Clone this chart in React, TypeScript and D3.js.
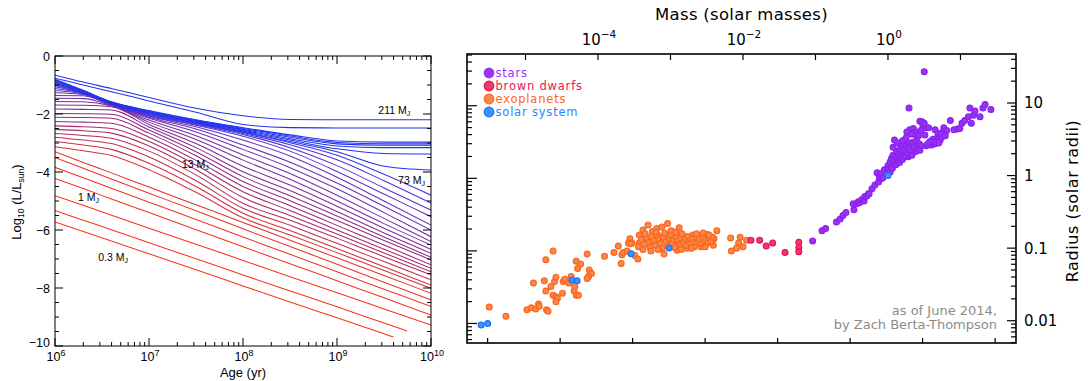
import React from "react";
import * as d3 from "d3";

// ---------- Left panel: luminosity evolution tracks ----------

// log10(age / yr) at which every track is sampled
const AGE_GRID = [6, 6.3, 6.6, 7, 7.5, 8, 8.5, 9, 9.5, 10];

// log10(L / Lsun) of each track on AGE_GRID, most massive first
const TRACKS: (number | null)[][] = [
  [-0.66, -0.90, -1.12, -1.43, -1.80, -2.06, -2.19, -2.20, -2.20, -2.20],
  [-0.77, -1.00, -1.23, -1.55, -1.94, -2.36, -2.47, -2.48, -2.48, -2.48],
  [-0.80, -1.18, -1.58, -1.88, -2.20, -2.47, -2.72, -2.93, -2.97, -2.97],
  [-0.83, -1.20, -1.59, -1.90, -2.22, -2.50, -2.76, -2.98, -3.03, -3.03],
  [-0.86, -1.22, -1.60, -1.92, -2.24, -2.53, -2.80, -3.03, -3.08, -3.08],
  [-0.89, -1.24, -1.61, -1.94, -2.26, -2.56, -2.85, -3.10, -3.16, -3.16],
  [-0.92, -1.25, -1.62, -1.96, -2.28, -2.59, -2.90, -3.20, -3.36, -3.38],
  [-0.95, -1.26, -1.63, -1.98, -2.30, -2.62, -2.95, -3.30, -3.80, -3.93],
  [-0.98, -1.27, -1.64, -2.00, -2.32, -2.64, -2.99, -3.42, -4.08, -4.80],
  [-1.02, -1.28, -1.65, -2.02, -2.34, -2.67, -3.06, -3.58, -4.30, -5.07],
  [-1.06, -1.29, -1.66, -2.04, -2.36, -2.71, -3.16, -3.78, -4.55, -5.31],
  [-1.12, -1.30, -1.67, -2.06, -2.39, -2.77, -3.28, -3.98, -4.76, -5.54],
  [-1.19, -1.31, -1.68, -2.08, -2.44, -2.90, -3.45, -4.18, -5.00, -5.83],
  [-1.27, -1.33, -1.69, -2.11, -2.52, -3.07, -3.66, -4.38, -5.18, -6.00],
  [-1.36, -1.37, -1.70, -2.15, -2.62, -3.22, -3.85, -4.58, -5.40, -6.23],
  [-1.46, -1.47, -1.71, -2.21, -2.75, -3.41, -4.05, -4.80, -5.60, -6.40],
  [-1.57, -1.58, -1.72, -2.28, -2.88, -3.59, -4.25, -5.00, -5.78, -6.52],
  [-1.69, -1.70, -1.75, -2.36, -3.02, -3.80, -4.45, -5.18, -5.94, -6.67],
  [-1.83, -1.84, -1.86, -2.45, -3.16, -3.99, -4.64, -5.36, -6.10, -6.80],
  [-1.98, -1.99, -2.01, -2.55, -3.30, -4.16, -4.82, -5.52, -6.24, -6.94],
  [-2.11, -2.12, -2.15, -2.66, -3.44, -4.33, -4.99, -5.67, -6.36, -7.03],
  [-2.26, -2.28, -2.32, -2.80, -3.60, -4.50, -5.16, -5.84, -6.52, -7.20],
  [-2.41, -2.44, -2.50, -2.95, -3.76, -4.68, -5.33, -6.00, -6.66, -7.32],
  [-2.53, -2.58, -2.66, -3.10, -3.92, -4.88, -5.50, -6.14, -6.79, -7.44],
  [-2.67, -2.74, -2.84, -3.28, -4.10, -5.08, -5.66, -6.28, -6.92, -7.55],
  [-2.80, -2.90, -3.02, -3.48, -4.30, -5.25, -5.84, -6.46, -7.09, -7.72],
  [-2.95, -3.07, -3.22, -3.70, -4.50, -5.42, -6.02, -6.64, -7.27, -7.90],
  [-3.13, -3.27, -3.43, -3.92, -4.70, -5.58, -6.17, -6.78, -7.40, -8.01],
  [-3.30, -3.67, -4.03, -4.52, -5.13, -5.74, -6.35, -6.96, -7.57, -8.18],
  [-3.50, -3.87, -4.24, -4.73, -5.34, -5.96, -6.57, -7.18, -7.80, -8.41],
  [-3.84, -4.20, -4.56, -5.04, -5.64, -6.24, -6.84, -7.44, -8.04, -8.64],
  [-4.22, -4.57, -4.93, -5.40, -5.99, -6.58, -7.16, -7.75, -8.34, -8.93],
  [-4.82, -5.15, -5.49, -5.94, -6.49, -7.05, -7.61, -8.16, -8.72, -9.28],
  [-5.33, -5.66, -5.99, -6.44, -6.99, -7.55, -8.10, -8.65, -9.21, null],
  [-5.72, -6.05, -6.38, -6.82, -7.37, -7.93, -8.48, -9.03, -9.58, null],
];

// tracks that end before 10 Gyr: index, final log age, final log L
const TRACK_STOP_INDEX = [33, 34];
const TRACK_STOP_AGE = [9.745, 9.6];
const TRACK_STOP_LUM = [-9.48, -9.69];

// mass labels (Jupiter masses) placed at (log age, log L)
const TRACK_LABELS = ["211", "73", "13", "1", "0.3"];
const TRACK_LABEL_AGE = [9.44, 9.65, 7.35, 6.245, 6.46];
const TRACK_LABEL_LUM = [-2.0, -4.41, -3.86, -5.0, -7.07];

const AGE_DECADES = [6, 7, 8, 9, 10];
const LUM_MAJOR = [0, -2, -4, -6, -8, -10];

// ---------- Right panel: mass-radius diagram ----------

// [log10 M/Msun, log10 R/Rsun]
const STARS: [number, number][] = [
  [-1.04, -0.90], [-0.91, -0.76], [-0.86, -0.73], [-0.71, -0.64], [-0.66, -0.60], [-0.62, -0.55],
  [-0.58, -0.51], [-0.48, -0.39], [-0.47, -0.47], [-0.43, -0.39], [-0.41, -0.36], [-0.39, -0.37],
  [-0.36, -0.33], [-0.33, -0.35], [-0.32, -0.29], [-0.29, -0.28], [-0.27, -0.25], [-0.26, -0.25],
  [-0.22, -0.18], [-0.18, -0.13], [-0.15, 0.04], [-0.13, -0.09], [-0.09, -0.04], [-0.06, 0.01],
  [-0.04, 0.05], [0.0, 0.14], [0.03, 0.19], [0.05, 0.24], [0.07, 0.28], [0.12, 0.33], [0.17, 0.37],
  [0.21, 0.40], [0.26, 0.35], [0.30, 0.31], [0.35, 0.37], [0.40, 0.42], [0.17, 0.24], [0.10, 0.19],
  [0.21, 0.28], [0.28, 0.26], [0.09, 0.49], [0.07, 0.39], [0.30, 0.63], [0.35, 0.65], [0.37, 0.60],
  [0.40, 0.53], [0.29, 0.93], [0.50, 1.43], [0.52, 0.66], [0.56, 0.66], [0.51, 0.56], [0.53, 0.41],
  [0.60, 0.42], [0.65, 0.44], [0.67, 0.51], [0.65, 0.63], [0.69, 0.58], [0.72, 0.49], [0.74, 0.53],
  [0.77, 0.66], [0.76, 0.60], [0.86, 0.76], [0.91, 0.63], [0.96, 0.64], [0.99, 0.65], [1.02, 0.72],
  [1.06, 0.76], [1.11, 0.81], [1.15, 0.72], [1.18, 0.83], [1.13, 0.93], [1.20, 0.89], [1.27, 0.81],
  [1.31, 0.93], [1.34, 0.98], [1.42, 0.91],
  [-0.12, -0.02], [-0.10, 0.03], [-0.07, -0.03], [-0.05, 0.08], [-0.02, 0.02], [0.01, 0.09],
  [0.03, 0.05], [0.04, 0.13], [0.06, 0.10], [0.08, 0.17], [0.09, 0.22], [0.11, 0.15], [0.12, 0.26],
  [0.14, 0.20], [0.15, 0.30], [0.16, 0.18], [0.18, 0.29], [0.19, 0.33], [0.20, 0.22], [0.22, 0.31],
  [0.23, 0.36], [0.24, 0.27], [0.25, 0.41], [0.27, 0.31], [0.28, 0.38], [0.29, 0.45], [0.31, 0.35],
  [0.32, 0.41], [0.33, 0.28], [0.34, 0.46], [0.36, 0.39], [0.38, 0.33], [0.39, 0.47], [0.41, 0.37],
  [0.43, 0.44], [0.44, 0.35], [0.46, 0.41], [0.13, 0.45], [0.20, 0.48], [0.25, 0.52], [0.33, 0.57],
  [0.42, 0.55], [0.45, 0.62], [0.48, 0.70], [0.44, 0.75], [0.47, 0.74], [0.50, 0.72], [0.26, 0.60],
  [0.62, 0.50], [0.64, 0.46], [0.70, 0.45], [0.73, 0.58], [0.79, 0.55], [0.81, 0.62], [0.58, 0.47],
  [0.55, 0.44],
];

const BROWN_DWARFS: [number, number][] = [
  [-1.89, -0.89], [-1.77, -0.89], [-1.68, -0.97], [-1.59, -0.93], [-1.42, -1.06],
  [-1.23, -0.92], [-1.23, -0.99], [-1.23, -1.05],
];

const EXOPLANETS: [number, number][] = [
  [-5.50, -1.81], [-5.27, -1.94], [-4.98, -1.85], [-4.92, -1.82], [-4.86, -1.84], [-4.82, -1.77],
  [-4.81, -1.80], [-4.89, -1.48], [-4.74, -1.45], [-4.72, -1.16], [-4.62, -1.04], [-4.72, -1.59],
  [-4.71, -1.85], [-4.69, -1.87], [-4.65, -1.53], [-4.60, -1.46], [-4.58, -1.40], [-4.62, -1.65],
  [-4.58, -1.67], [-4.56, -1.69], [-4.58, -1.74], [-4.49, -1.62], [-4.48, -1.46], [-4.46, -1.43],
  [-4.40, -1.48], [-4.37, -1.39], [-4.33, -1.59], [-4.30, -1.65], [-4.27, -1.65], [-4.32, -1.53],
  [-4.30, -1.18], [-4.24, -1.22], [-4.28, -1.28], [-4.15, -1.08], [-4.12, -1.30], [-4.09, -1.35],
  [-4.13, -1.39], [-4.15, -1.42], [-3.91, -1.11], [-3.78, -1.06], [-3.72, -0.97], [-3.67, -1.09],
  [-3.68, -1.21], [-3.56, -0.87], [-3.53, -0.93], [-3.58, -0.93], [-3.49, -1.10], [-3.45, -1.15],
  [-3.65, -1.06], [-3.60, -1.04], [-3.43, -0.82], [-3.38, -0.75], [-3.31, -0.68], [-3.25, -0.77],
  [-3.19, -0.73], [-3.12, -0.71], [-3.04, -0.66], [-3.09, -1.08], [-2.88, -0.72], [-2.77, -1.00],
  [-2.69, -0.82], [-2.50, -0.81], [-2.36, -0.76], [-2.41, -0.96], [-2.16, -1.04], [-2.17, -0.86],
  [-2.06, -0.93], [-2.04, -0.85], [-2.00, -0.98], [-2.09, -1.00], [-1.95, -0.89], [-2.91, -1.03],
  [-2.58, -0.98], [-2.40, -0.87], [-3.43, -0.93], [-3.55, -0.94],
  [-3.40, -0.88], [-3.36, -0.95], [-3.33, -0.86], [-3.30, -0.92], [-3.28, -0.99], [-3.26, -0.84],
  [-3.23, -0.90], [-3.21, -0.96], [-3.18, -0.82], [-3.16, -0.88], [-3.14, -0.94], [-3.12, -1.00],
  [-3.10, -0.85], [-3.08, -0.79], [-3.06, -0.91], [-3.04, -0.97], [-3.02, -0.87], [-3.00, -0.82],
  [-2.98, -0.93], [-2.96, -0.88], [-2.94, -0.99], [-2.92, -0.84], [-2.90, -0.90], [-2.88, -0.95],
  [-2.86, -0.86], [-2.84, -0.80], [-2.82, -0.92], [-2.80, -0.87], [-2.78, -0.96], [-2.76, -0.84],
  [-2.74, -0.90], [-2.72, -0.93], [-2.70, -0.87], [-2.67, -0.98], [-2.65, -0.85], [-2.62, -0.91],
  [-2.60, -0.88], [-2.57, -0.94], [-2.55, -0.86], [-2.52, -0.90], [-2.49, -0.93], [-2.46, -0.87],
  [-2.44, -0.91], [-2.42, -0.85], [-3.35, -0.80], [-3.20, -0.78], [-2.99, -0.76], [-2.93, -0.78],
  [-3.44, -0.98], [-3.38, -1.02], [-3.27, -1.04], [-3.17, -1.02], [-2.85, -1.02], [-2.71, -1.00],
  [-2.52, -0.98], [-2.64, -0.80], [-2.55, -0.79], [-2.47, -0.82],
];

// Venus, Earth, Uranus, Neptune, Saturn, Jupiter, Sun (solar masses, solar radii)
const SOLAR_SYSTEM_MASS = [2.447e-6, 3.003e-6, 4.366e-5, 5.151e-5, 2.858e-4, 9.546e-4, 1];
const SOLAR_SYSTEM_RADIUS = [0.0087, 0.009168, 0.0365, 0.0354, 0.0837, 0.1005, 1];

const LEGEND_LABELS = ["stars", "brown dwarfs", "exoplanets", "solar system"];
const MASS_LABEL_EXPONENTS = [-4, -2, 0];
const RADIUS_LABELS = [10, 1, 0.1, 0.01];

const EARTH_MASS = 3.003e-6; // in solar masses
const EARTH_RADIUS = 0.009168; // in solar radii

const LEFT_FONT = "'Liberation Sans', Arial, Helvetica, sans-serif";
const RIGHT_FONT = "'DejaVu Sans', sans-serif";

const STAR_FILL = "#9a32f5";
const STAR_STROKE = "#8a22ee";
const BD_FILL = "#ee3a6e";
const BD_STROKE = "#e8104e";
const EXO_FILL = "#f48a50";
const EXO_STROKE = "#ff6418";
const SOL_FILL = "#3a94ff";
const SOL_STROKE = "#1f70f0";

export default function App() {
  const W = 1088;
  const H = 381;

  // left panel geometry
  const L0 = 55, L1 = 431, T0 = 56, T1 = 346;
  const xL = d3.scaleLog().domain([1e6, 1e10]).range([L0, L1]);
  const yL = d3.scaleLinear().domain([-10, 0]).range([T1, T0]);

  const trackColor = d3.piecewise(d3.interpolateRgb, [
    "#3f33e6", "#6a30b4", "#862c8c", "#b02c60", "#f03222", "#ff3318",
  ]);
  const nTracks = TRACKS.length;
  const colorOf = (i: number) =>
    i < 8 ? "#2233ee" : trackColor((i - 8) / (nTracks - 9));

  const line = d3
    .line<[number, number]>()
    .x((d) => xL(Math.pow(10, d[0])))
    .y((d) => yL(d[1]))
    .curve(d3.curveMonotoneX);

  const trackPaths = TRACKS.map((tr, i) => {
    const pts: [number, number][] = [];
    AGE_GRID.forEach((a, j) => {
      const v = tr[j];
      if (v !== null) pts.push([a, v]);
    });
    const s = TRACK_STOP_INDEX.indexOf(i);
    if (s >= 0) pts.push([TRACK_STOP_AGE[s], TRACK_STOP_LUM[s]]);
    return line(pts) || "";
  });

  const xMinorL: number[] = [];
  for (let d = 6; d < 10; d++) for (let k = 2; k <= 9; k++) xMinorL.push(k * Math.pow(10, d));
  const yMinorL = d3.range(-10, 0.01, 0.5).filter((v) => Math.abs(v % 2) > 0.01);

  // right panel geometry
  const R0 = 467, R1 = 1016, U0 = 54, U1 = 343;
  const xR = d3.scaleLog().domain([Math.pow(10, -5.807), Math.pow(10, 1.766)]).range([R0, R1]);
  const yR = d3.scaleLog().domain([Math.pow(10, -2.307), Math.pow(10, 1.675)]).range([U1, U0]);
  const [mLo, mHi] = xR.domain();
  const [rLo, rHi] = yR.domain();

  const topTicks = d3.range(-5, 2).map((k) => Math.pow(10, k)).filter((v) => v >= mLo && v <= mHi);
  const bottomTicks = d3.range(0, 9).map((n) => EARTH_MASS * Math.pow(10, n)).filter((v) => v >= mLo && v <= mHi);
  const rightTicks: { v: number; major: boolean }[] = [];
  for (let d = -3; d <= 1; d++)
    for (let k = 1; k <= 9; k++) {
      const v = k * Math.pow(10, d);
      if (v >= rLo && v <= rHi) rightTicks.push({ v, major: k === 1 });
    }
  const leftTicks: { v: number; major: boolean }[] = [];
  for (let d = -1; d <= 3; d++)
    for (let k = 1; k <= 9; k++) {
      const v = EARTH_RADIUS * k * Math.pow(10, d);
      if (v >= rLo && v <= rHi) leftTicks.push({ v, major: k === 1 });
    }

  const dot = (p: [number, number]) => ({ cx: xR(Math.pow(10, p[0])), cy: yR(Math.pow(10, p[1])) });
  const legendColors = [STAR_FILL, BD_STROKE, EXO_STROKE, SOL_STROKE];
  const legendFills = [STAR_FILL, BD_FILL, EXO_FILL, SOL_FILL];
  const legendText = ["#9933ff", "#ee1155", "#ff6622", "#2a88ff"];

  return (
    <svg width={W} height={H} style={{ position: "absolute", left: 0, top: 0, background: "#fff" }}>
      <rect x={0} y={0} width={W} height={H} fill="#fff" />

      {/* ----- Left panel ----- */}
      <g>
        <clipPath id="clipL">
          <rect x={L0} y={T0} width={L1 - L0} height={T1 - T0} />
        </clipPath>
        <g clipPath="url(#clipL)">
          {trackPaths
            .map((p, i) => ({ p, i }))
            .reverse()
            .map(({ p, i }) => (
              <path key={i} d={p} fill="none" stroke={colorOf(i)} strokeWidth={1.05} />
            ))}
        </g>
        <rect x={L0} y={T0} width={L1 - L0} height={T1 - T0} fill="none" stroke="#000" strokeWidth={1} />
        {/* age ticks, bottom and top */}
        {AGE_DECADES.map((d) => {
          const x = xL(Math.pow(10, d));
          return (
            <g key={"xa" + d}>
              <line x1={x} x2={x} y1={T1} y2={T1 - 8} stroke="#000" />
              <line x1={x} x2={x} y1={T0} y2={T0 + 8} stroke="#000" />
              <text x={x + 1} y={T1 + 15} textAnchor="middle" fontFamily={LEFT_FONT} fontSize={12.5}>
                10<tspan dy={-5} fontSize={9}>{d}</tspan>
              </text>
            </g>
          );
        })}
        {xMinorL.map((v, i) => {
          const x = xL(v);
          return (
            <g key={"xm" + i}>
              <line x1={x} x2={x} y1={T1} y2={T1 - 4} stroke="#000" />
              <line x1={x} x2={x} y1={T0} y2={T0 + 4} stroke="#000" />
            </g>
          );
        })}
        {/* luminosity ticks, left and right */}
        {LUM_MAJOR.map((v) => {
          const y = yL(v);
          return (
            <g key={"ya" + v}>
              <line x1={L0} x2={L0 + 8} y1={y} y2={y} stroke="#000" />
              <line x1={L1} x2={L1 - 8} y1={y} y2={y} stroke="#000" />
              <text
                x={50}
                y={v === -10 ? y + 0.5 : y + 4.5}
                textAnchor="end"
                fontFamily={LEFT_FONT}
                fontSize={12.5}
              >
                {v === 0 ? "0" : "\u2212" + Math.abs(v)}
              </text>
            </g>
          );
        })}
        {yMinorL.map((v, i) => {
          const y = yL(v);
          return (
            <g key={"ym" + i}>
              <line x1={L0} x2={L0 + 4} y1={y} y2={y} stroke="#000" />
              <line x1={L1} x2={L1 - 4} y1={y} y2={y} stroke="#000" />
            </g>
          );
        })}
        <text x={(L0 + L1) / 2} y={377} textAnchor="middle" fontFamily={LEFT_FONT} fontSize={13}>
          Age (yr)
        </text>
        <text
          transform={`translate(21, 202) rotate(-90)`}
          textAnchor="middle"
          fontFamily={LEFT_FONT}
          fontSize={13}
        >
          Log<tspan dy={3} fontSize={8.5}>10</tspan>
          <tspan dy={-3}> (L/L</tspan>
          <tspan dy={3} fontSize={8.5}>sun</tspan>
          <tspan dy={-3}>)</tspan>
        </text>
        {TRACK_LABELS.map((t, i) => (
          <text
            key={"tl" + i}
            x={xL(Math.pow(10, TRACK_LABEL_AGE[i]))}
            y={yL(TRACK_LABEL_LUM[i])}
            fontFamily={LEFT_FONT}
            fontSize={10.5}
            fill="#000"
          >
            {t} M<tspan dy={2} fontSize={7}>J</tspan>
          </text>
        ))}
      </g>

      {/* ----- Right panel ----- */}
      <g fontFamily={RIGHT_FONT}>
        <clipPath id="clipR">
          <rect x={R0} y={U0} width={R1 - R0} height={U1 - U0} />
        </clipPath>
        <g clipPath="url(#clipR)">
          {EXOPLANETS.map((p, i) => (
            <circle key={"e" + i} {...dot(p)} r={2.9} fill={EXO_FILL} stroke={EXO_STROKE} strokeWidth={1.2} />
          ))}
          {BROWN_DWARFS.map((p, i) => (
            <circle key={"b" + i} {...dot(p)} r={2.9} fill={BD_FILL} stroke={BD_STROKE} strokeWidth={1.2} />
          ))}
          {STARS.map((p, i) => (
            <circle key={"s" + i} {...dot(p)} r={2.9} fill={STAR_FILL} stroke={STAR_STROKE} strokeWidth={1.2} />
          ))}
          {SOLAR_SYSTEM_MASS.map((m, i) => (
            <circle
              key={"p" + i}
              cx={xR(m)}
              cy={yR(SOLAR_SYSTEM_RADIUS[i])}
              r={2.9}
              fill={SOL_FILL}
              stroke={SOL_STROKE}
              strokeWidth={1.2}
            />
          ))}
        </g>
        <rect x={R0} y={U0} width={R1 - R0} height={U1 - U0} fill="none" stroke="#000" strokeWidth={1.6} />
        {topTicks.map((v, i) => (
          <line key={"tt" + i} x1={xR(v)} x2={xR(v)} y1={U0} y2={U0 + 6} stroke="#000" strokeWidth={1.2} />
        ))}
        {bottomTicks.map((v, i) => (
          <line key={"bt" + i} x1={xR(v)} x2={xR(v)} y1={U1} y2={U1 - 5} stroke="#000" strokeWidth={1.2} />
        ))}
        {rightTicks.map((t, i) => (
          <line
            key={"rt" + i}
            x1={R1}
            x2={R1 - (t.major ? 9 : 5)}
            y1={yR(t.v)}
            y2={yR(t.v)}
            stroke="#000"
            strokeWidth={1.2}
          />
        ))}
        {leftTicks.map((t, i) => (
          <line
            key={"lt" + i}
            x1={R0}
            x2={R0 + (t.major ? 10 : 5)}
            y1={yR(t.v)}
            y2={yR(t.v)}
            stroke="#000"
            strokeWidth={1.2}
          />
        ))}
        {MASS_LABEL_EXPONENTS.map((e) => (
          <text key={"ml" + e} x={xR(Math.pow(10, e)) + 1} y={45} textAnchor="middle" fontSize={15}>
            10
            <tspan dy={-7} fontSize={10.5}>
              {e === 0 ? "0" : "\u2212" + Math.abs(e)}
            </tspan>
          </text>
        ))}
        <text x={(R0 + R1) / 2} y={20} textAnchor="middle" fontSize={16.5} letterSpacing={0.3}>
          Mass (solar masses)
        </text>
        {RADIUS_LABELS.map((v) => (
          <text key={"rl" + v} x={1024} y={yR(v) + 5.5} fontSize={15}>
            {String(v)}
          </text>
        ))}
        <text
          transform={`translate(1078, 201) rotate(-90)`}
          textAnchor="middle"
          fontSize={16}
          letterSpacing={0.6}
        >
          Radius (solar radii)
        </text>
        {LEGEND_LABELS.map((t, i) => (
          <g key={"lg" + i}>
            <circle cx={489} cy={73 + i * 13} r={4.8} fill={legendFills[i]} stroke={legendColors[i]} strokeWidth={1.2} />
            <text x={495.5} y={77} fontSize={11.5} letterSpacing={0.8} fill={legendText[i]} dy={i * 13}>
              {t}
            </text>
          </g>
        ))}
        <text x={997} y={315} textAnchor="end" fontSize={13} fill="#8c8c8c">
          as of June 2014,
        </text>
        <text x={997} y={329} textAnchor="end" fontSize={13} fill="#8c8c8c">
          by Zach Berta-Thompson
        </text>
      </g>
    </svg>
  );
}
